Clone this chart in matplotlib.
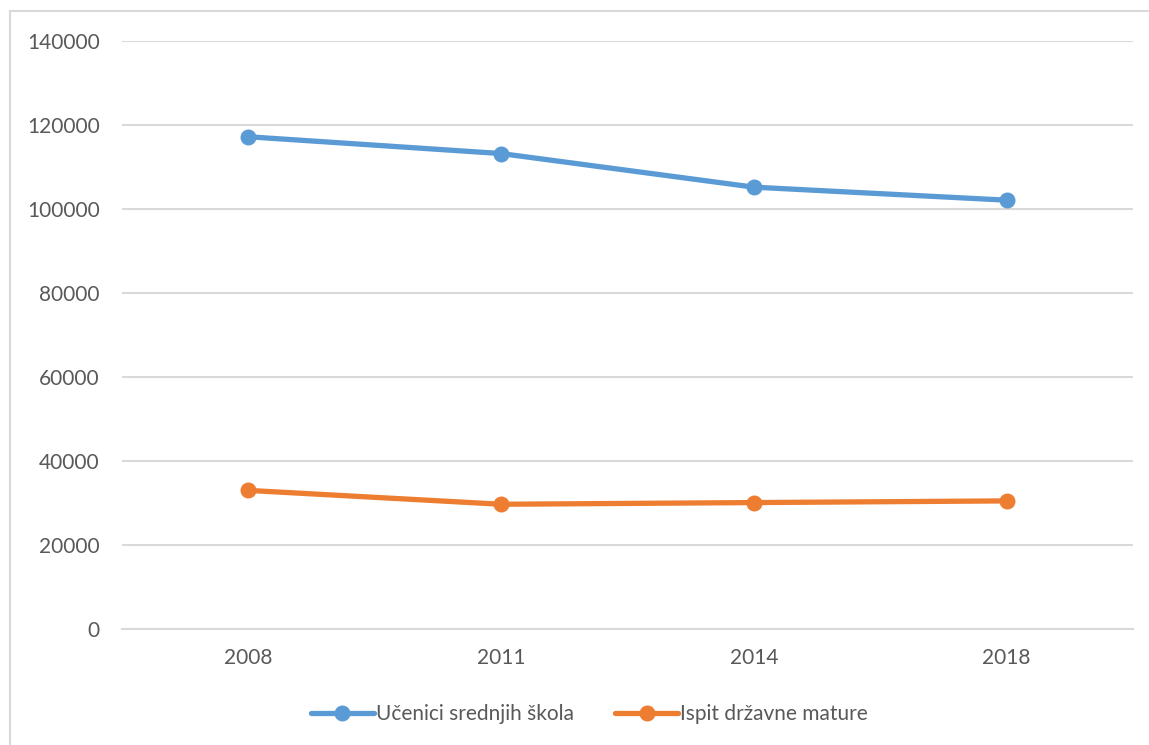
"""line chart: students vs state matura"""
import matplotlib
matplotlib.use("Agg")
import matplotlib.pyplot as plt
from matplotlib.patches import Rectangle

# data
years = ["2008", "2011", "2014", "2018"]
ucenici = [117200, 113200, 105200, 102100]
matura = [33000, 29700, 30100, 30500]
y_ticks = [0, 20000, 40000, 60000, 80000, 100000, 120000, 140000]

blue = "#5B9BD5"
orange = "#ED7D31"
grid_c = "#D9D9D9"
text_c = "#595959"

plt.rcParams["font.family"] = ["Lato", "DejaVu Sans"]

fig = plt.figure(figsize=(11.49, 7.45), dpi=100)
ax = fig.add_axes([122 / 1149, 1 - 629 / 745, (1133 - 122) / 1149, (629 - 41) / 745])

x = range(len(years))
ax.plot(x, ucenici, color=blue, lw=3.8, marker="o", ms=10.5,
        label="Učenici srednjih škola", solid_capstyle="round")
ax.plot(x, matura, color=orange, lw=3.8, marker="o", ms=10.5,
        label="Ispit državne mature", solid_capstyle="round")

ax.set_xlim(-0.5, len(years) - 0.5)
ax.set_ylim(0, 140000)
ax.set_xticks(list(x))
ax.set_xticklabels(years)
ax.set_yticks(y_ticks)
ax.set_yticklabels([str(v) for v in y_ticks])
ax.tick_params(length=0, labelsize=15, colors=text_c)
ax.tick_params(axis="x", pad=14)
ax.tick_params(axis="y", pad=16)
ax.grid(axis="y", color=grid_c, lw=1.5)
ax.set_axisbelow(True)
for s in ["top", "right", "left"]:
    ax.spines[s].set_visible(False)
ax.spines["bottom"].set_color(grid_c)
ax.spines["bottom"].set_linewidth(1.5)

leg = fig.legend(loc="center", bbox_to_anchor=(0.513, 1 - 714 / 745), ncol=2,
                 frameon=False, fontsize=15, handlelength=3.0,
                 handletextpad=0.1, columnspacing=2.0)
for t in leg.get_texts():
    t.set_color(text_c)

# chart area border (cropped on right and bottom)
fig.patches.append(Rectangle((10 / 1149, -0.1), 1.2, 1 - 11 / 745 + 0.1,
                             transform=fig.transFigure, fill=False,
                             edgecolor=grid_c, lw=1.5))

fig.savefig("out.png", dpi=100)
